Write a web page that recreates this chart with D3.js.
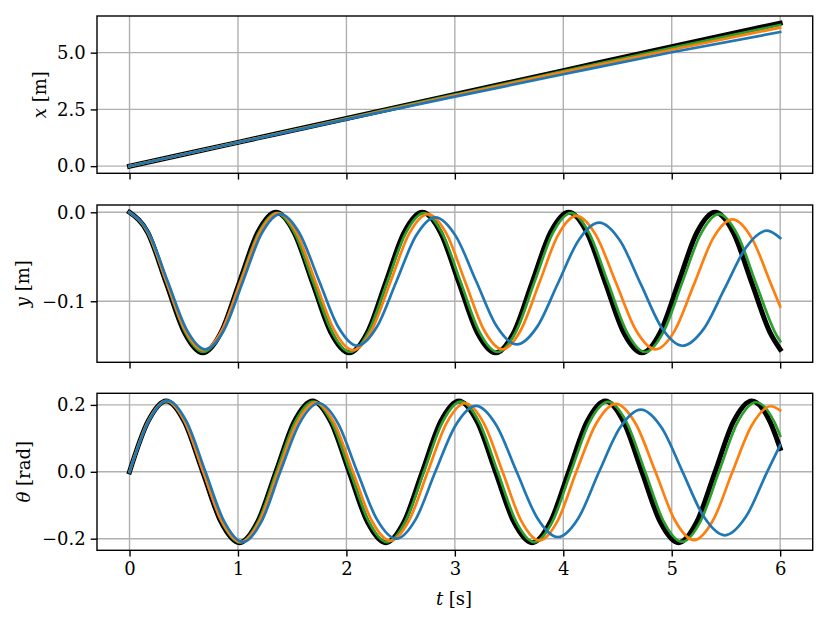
<!DOCTYPE html>
<html>
<head>
<meta charset="utf-8">
<script src="https://cdn.jsdelivr.net/npm/d3@7"></script>
<style>
  html, body { margin: 0; padding: 0; background: #fff; }
  svg { display: block; }
  text { font-family: "DejaVu Serif", serif; fill: #000; }
</style>
</head>
<body>
<svg id="chart" width="830" height="622"></svg>
<script>
// ---------- data ----------
const tTicks = [0, 1, 2, 3, 4, 5, 6];
const tTickLabels = ["0", "1", "2", "3", "4", "5", "6"];

const xTicks = [0, 2.5, 5.0];
const xTickLabels = ["0.0", "2.5", "5.0"];
const yTicks = [-0.1, 0.0];
const yTickLabels = ["\u22120.1", "0.0"];
const thTicks = [-0.2, 0.0, 0.2];
const thTickLabels = ["\u22120.2", "0.0", "0.2"];

const seriesNames = ["reference", "green", "orange", "blue"];
const seriesColors = ["#000000", "#2ca02c", "#ff7f0e", "#1f77b4"];

// x [m] over t [s]
const xRef    = [[0,0],[1,1.05],[2,2.10],[3,3.16],[4,4.21],[5,5.26],[6,6.30]];
const xGreen  = [[0,0],[1,1.05],[2,2.10],[3,3.15],[4,4.19],[5,5.21],[6,6.22]];
const xOrange = [[0,0],[1,1.05],[2,2.09],[3,3.12],[4,4.14],[5,5.13],[6,6.10]];
const xBlue   = [[0,0],[1,1.04],[2,2.06],[3,3.06],[4,4.05],[5,5.02],[6,5.91]];

// sample times read for each series (shared by the y and theta panels)
const tRef = [0,0.169,0.3375,0.506,0.675,0.844,1.0125,1.181,1.35,1.519,1.6875,1.856,2.025,2.194,
  2.3625,2.531,2.70,2.869,3.0375,3.206,3.375,3.544,3.7125,3.881,4.05,4.219,4.3875,4.556,4.725,
  4.894,5.0625,5.231,5.40,5.569,5.7375,5.906,6.0];
const tGreen = [0,0.17,0.34,0.51,0.68,0.849,1.0175,1.186,1.355,1.525,1.695,1.865,2.035,2.205,
  2.375,2.545,2.715,2.885,3.055,3.225,3.395,3.564,3.7325,3.901,4.07,4.241,4.4125,4.584,4.755,
  4.925,5.095,5.265,5.435,5.606,5.7775,5.949,6.0];
const tOrange = [0,0.17,0.34,0.51,0.68,0.8525,1.025,1.1975,1.37,1.5425,1.715,1.8875,2.06,2.2325,
  2.405,2.5775,2.75,2.9225,3.095,3.2675,3.44,3.61,3.78,3.95,4.12,4.3025,4.485,4.6675,4.85,
  5.0275,5.205,5.3825,5.56,5.7375,5.915,6.0];
const tBlue = [0,0.175,0.35,0.525,0.70,0.8725,1.045,1.2175,1.39,1.5675,1.745,1.9225,2.10,2.28,
  2.46,2.64,2.82,3.0075,3.195,3.3825,3.57,3.76,3.95,4.14,4.33,4.5225,4.715,4.9075,5.10,5.295,
  5.49,5.685,5.88,6.0];

// y [m]
const yRefV = [0,-0.023,-0.079,-0.135,-0.158,-0.135,-0.079,-0.023,0,-0.023,-0.079,-0.135,-0.158,
  -0.135,-0.079,-0.023,0,-0.023,-0.079,-0.135,-0.158,-0.135,-0.079,-0.023,0,-0.023,-0.079,-0.135,
  -0.158,-0.135,-0.079,-0.023,0,-0.023,-0.079,-0.135,-0.154];
const yGreenV = [0,-0.023,-0.0785,-0.134,-0.157,-0.134,-0.079,-0.024,-0.001,-0.024,-0.079,-0.134,
  -0.157,-0.134,-0.079,-0.024,-0.001,-0.024,-0.079,-0.134,-0.157,-0.134,-0.079,-0.024,-0.001,
  -0.024,-0.079,-0.134,-0.157,-0.134,-0.0795,-0.025,-0.002,-0.025,-0.080,-0.134,-0.145];
const yOrangeV = [0,-0.0226,-0.0775,-0.132,-0.155,-0.1325,-0.078,-0.0235,-0.001,-0.0235,-0.078,
  -0.1325,-0.155,-0.1326,-0.0785,-0.0243,-0.002,-0.024,-0.078,-0.132,-0.154,-0.132,-0.079,-0.026,
  -0.004,-0.026,-0.079,-0.132,-0.154,-0.133,-0.081,-0.029,-0.008,-0.029,-0.0805,-0.106];
const yBlueV = [0,-0.0225,-0.077,-0.1315,-0.154,-0.132,-0.078,-0.024,-0.002,-0.0236,-0.076,-0.1284,
  -0.150,-0.129,-0.078,-0.0267,-0.0056,-0.0265,-0.077,-0.1276,-0.1485,-0.1285,-0.080,-0.0316,
  -0.0116,-0.0318,-0.0808,-0.1298,-0.150,-0.131,-0.0853,-0.0395,-0.0206,-0.029];

// theta [rad]
const thRefV = [0,0.150,0.212,0.150,0,-0.150,-0.212,-0.150,0,0.150,0.212,0.150,0,-0.150,-0.212,
  -0.150,0,0.150,0.212,0.150,0,-0.150,-0.212,-0.150,0,0.150,0.212,0.150,0,-0.150,-0.212,-0.150,
  0,0.150,0.212,0.150,0.07];
const thGreenV = [0,0.149,0.211,0.149,0,-0.149,-0.211,-0.149,0,0.148,0.210,0.148,0,-0.148,-0.210,
  -0.148,0,0.148,0.210,0.148,0,-0.148,-0.210,-0.148,0,0.148,0.209,0.148,0,-0.148,-0.209,-0.148,
  0,0.147,0.208,0.147,0.108];
const thOrangeV = [0,0.150,0.212,0.150,0,-0.1485,-0.210,-0.1485,0,0.146,0.207,0.146,0,-0.1456,
  -0.206,-0.1456,0,0.145,0.205,0.145,0,-0.145,-0.205,-0.145,0,0.1435,0.203,0.1435,0,-0.144,
  -0.204,-0.144,0,0.1385,0.196,0.184];
const thBlueV = [0,0.1506,0.213,0.1506,0,-0.1485,-0.210,-0.1485,0,0.145,0.205,0.145,0,-0.1414,
  -0.200,-0.1414,0,0.139,0.197,0.139,0,-0.138,-0.195,-0.138,0,0.1315,0.186,0.1315,0,-0.134,
  -0.190,-0.134,0,0.08];

const zip = (ts, vs) => ts.map((t, i) => [t, vs[i]]);

// ---------- layout ----------
const svg = d3.select("#chart");
const left = 97, right = 812.7;
const sx = d3.scaleLinear().domain([-0.3, 6.3]).range([left, right]);

const panels = [
  { top: 16, bottom: 173.3, domain: [-0.315, 6.615], ticks: xTicks, labels: xTickLabels,
    label: ["x", " [m]"], labelX: 40,
    data: [xRef, xGreen, xOrange, xBlue] },
  { top: 205, bottom: 362.3, domain: [-0.1686, 0.0082], ticks: yTicks, labels: yTickLabels,
    label: ["y", " [m]"], labelX: 23,
    data: [zip(tRef, yRefV), zip(tGreen, yGreenV), zip(tOrange, yOrangeV), zip(tBlue, yBlueV)] },
  { top: 393.3, bottom: 550.3, domain: [-0.2347, 0.2347], ticks: thTicks, labels: thTickLabels,
    label: ["\u03b8", " [rad]"], labelX: 24,
    data: [zip(tRef, thRefV), zip(tGreen, thGreenV), zip(tOrange, thOrangeV), zip(tBlue, thBlueV)] }
];

const lineWidths = [5, 2.7, 2.7, 2.7];

panels.forEach((p, pi) => {
  const sy = d3.scaleLinear().domain(p.domain).range([p.bottom, p.top]);
  const g = svg.append("g");

  const cid = "clip" + pi;
  svg.append("clipPath").attr("id", cid).append("rect")
    .attr("x", left).attr("y", p.top).attr("width", right - left).attr("height", p.bottom - p.top);

  // grid
  const grid = g.append("g").attr("clip-path", `url(#${cid})`);
  grid.selectAll("line.gx").data(tTicks).join("line")
    .attr("x1", d => sx(d)).attr("x2", d => sx(d))
    .attr("y1", p.top).attr("y2", p.bottom)
    .attr("stroke", "#b0b0b0").attr("stroke-width", 1.4);
  grid.selectAll("line.gy").data(p.ticks).join("line")
    .attr("x1", left).attr("x2", right)
    .attr("y1", d => sy(d)).attr("y2", d => sy(d))
    .attr("stroke", "#b0b0b0").attr("stroke-width", 1.4);

  // lines
  const line = d3.line().x(d => sx(d[0])).y(d => sy(d[1])).curve(d3.curveMonotoneX);
  const lg = g.append("g").attr("clip-path", `url(#${cid})`);
  p.data.forEach((arr, i) => {
    lg.append("path").datum(arr)
      .attr("d", line)
      .attr("fill", "none")
      .attr("stroke", seriesColors[i])
      .attr("stroke-width", lineWidths[i])
      .attr("stroke-linejoin", "round")
      .attr("stroke-linecap", "square");
  });

  // axes
  const yAxis = d3.axisLeft(sy).tickValues(p.ticks).tickFormat((d, i) => p.labels[i])
    .tickSize(6.3).tickPadding(5);
  const ya = g.append("g").attr("transform", `translate(${left},0)`).call(yAxis);
  ya.select(".domain").remove();
  ya.selectAll("line").attr("stroke", "#000").attr("stroke-width", 1.4);
  ya.selectAll("text").attr("font-family", "DejaVu Serif").attr("font-size", 18).attr("fill", "#000");

  const isBottom = pi === panels.length - 1;
  const xAxis = d3.axisBottom(sx).tickValues(tTicks)
    .tickFormat((d, i) => isBottom ? tTickLabels[i] : "")
    .tickSize(6.3).tickPadding(6);
  const xa = g.append("g").attr("transform", `translate(0,${p.bottom})`).call(xAxis);
  xa.select(".domain").remove();
  xa.selectAll("line").attr("stroke", "#000").attr("stroke-width", 1.4);
  xa.selectAll("text").attr("font-family", "DejaVu Serif").attr("font-size", 18).attr("fill", "#000");

  // frame
  g.append("rect").attr("x", left).attr("y", p.top)
    .attr("width", right - left).attr("height", p.bottom - p.top)
    .attr("fill", "none").attr("stroke", "#000").attr("stroke-width", 1.4);

  // y label
  const cy = (p.top + p.bottom) / 2;
  const t = g.append("text")
    .attr("transform", `translate(${p.labelX},${cy}) rotate(-90)`)
    .attr("text-anchor", "middle").attr("dy", "0.35em")
    .attr("font-size", 18);
  t.append("tspan").attr("font-style", "italic").text(p.label[0]);
  t.append("tspan").text(p.label[1]);
});

// x label
const xl = svg.append("text")
  .attr("x", 454).attr("y", 598.7).attr("dy", "0.35em")
  .attr("text-anchor", "middle").attr("font-size", 18);
xl.append("tspan").attr("font-style", "italic").text("t");
xl.append("tspan").text(" [s]");
</script>
</body>
</html>
